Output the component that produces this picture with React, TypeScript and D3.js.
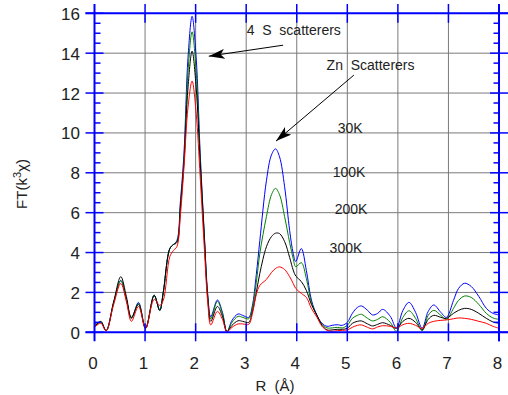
import * as d3 from 'd3';
import React, { useRef, useEffect } from 'react';

// R values (Å) shared by all four temperature curves
const rValues = [0, 0.07, 0.13, 0.23, 0.38, 0.52, 0.63, 0.73, 0.87, 1.01, 1.18, 1.29, 1.36, 1.49, 1.56, 1.63, 1.70, 1.77, 1.85, 1.93, 2.01, 2.09, 2.17, 2.24, 2.30, 2.43, 2.53, 2.62, 2.72, 2.84, 2.93, 3.05, 3.12, 3.2, 3.27, 3.4, 3.5, 3.58, 3.66, 3.76, 3.86, 3.93, 3.98, 4.09, 4.19, 4.29, 4.4, 4.5, 4.6, 4.7, 4.8, 4.9, 5.0, 5.1, 5.2, 5.28, 5.4, 5.5, 5.6, 5.7, 5.85, 5.97, 6.1, 6.22, 6.35, 6.48, 6.6, 6.71, 6.85, 6.96, 7.1, 7.2, 7.32, 7.45, 7.6, 7.75, 7.88, 8.0];

const ft30K = [0.4, 0.5, 0.5, 0.08, 1.5, 2.6, 1.65, 0.7, 1.5, 0.2, 1.85, 1.1, 2.0, 4.2, 4.4, 4.6, 6.6, 9.0, 13.8, 15.85, 13.8, 9.0, 5.0, 1.9, 0.78, 1.62, 1.0, 0.03, 0.6, 0.92, 0.85, 0.75, 1.3, 2.9, 4.6, 7.6, 8.9, 9.2, 8.8, 7.3, 5.1, 3.96, 3.55, 4.2, 3.1, 1.62, 0.85, 0.45, 0.3, 0.35, 0.38, 0.35, 0.5, 0.95, 1.25, 1.32, 1.1, 0.87, 0.95, 1.15, 0.8, 0.22, 1.1, 1.5, 1.0, 0.2, 1.05, 1.37, 1.0, 0.75, 1.6, 2.2, 2.46, 2.3, 1.8, 1.2, 0.95, 0.87];
const ft100K = [0.35, 0.45, 0.5, 0.08, 1.5, 2.6, 1.65, 0.7, 1.45, 0.2, 1.87, 1.1, 2.0, 4.2, 4.4, 4.55, 6.4, 8.7, 13.1, 15.07, 13.1, 8.7, 4.9, 1.8, 0.68, 1.55, 0.95, 0.03, 0.5, 0.8, 0.75, 0.68, 1.2, 2.5, 3.96, 5.8, 6.9, 7.22, 6.9, 5.8, 4.5, 3.7, 3.29, 3.49, 2.7, 1.5, 0.85, 0.4, 0.22, 0.22, 0.25, 0.22, 0.35, 0.7, 0.85, 0.9, 0.7, 0.57, 0.65, 0.78, 0.5, 0.05, 0.75, 1.08, 0.7, 0.08, 0.85, 1.1, 0.85, 0.65, 1.2, 1.6, 1.82, 1.75, 1.4, 0.95, 0.72, 0.65];
const ft200K = [0.3, 0.45, 0.55, 0.08, 1.55, 2.79, 1.8, 0.75, 1.4, 0.2, 1.85, 1.1, 2.0, 4.2, 4.4, 4.5, 6.3, 8.5, 12.3, 14.1, 12.3, 8.5, 4.8, 1.7, 0.55, 1.3, 0.8, 0.03, 0.35, 0.58, 0.55, 0.5, 1.0, 2.0, 2.96, 4.29, 4.8, 4.97, 4.95, 4.55, 3.75, 3.12, 2.82, 2.55, 2.1, 1.4, 0.85, 0.35, 0.12, 0.12, 0.15, 0.15, 0.2, 0.45, 0.55, 0.57, 0.42, 0.32, 0.4, 0.48, 0.35, 0.2, 0.55, 0.7, 0.5, 0.13, 0.65, 0.85, 0.75, 0.7, 0.95, 1.1, 1.2, 1.15, 0.95, 0.7, 0.52, 0.45];
const ft300K = [0.25, 0.4, 0.45, 0.08, 1.4, 2.45, 1.55, 0.55, 1.3, 0.2, 1.65, 1.35, 1.6, 3.8, 4.1, 4.3, 5.9, 8.3, 11.3, 12.6, 11.0, 7.8, 4.3, 1.5, 0.37, 1.05, 0.65, 0.03, 0.25, 0.42, 0.42, 0.4, 0.9, 1.9, 2.35, 2.65, 3.0, 3.2, 3.28, 3.15, 2.79, 2.45, 2.2, 1.95, 1.75, 1.2, 0.75, 0.3, 0.1, 0.05, 0.08, 0.1, 0.12, 0.25, 0.35, 0.37, 0.25, 0.17, 0.27, 0.33, 0.3, 0.22, 0.38, 0.45, 0.35, 0.2, 0.45, 0.55, 0.6, 0.62, 0.68, 0.72, 0.7, 0.65, 0.55, 0.45, 0.3, 0.2];

const seriesColors = ['#0000ff', '#008000', '#000000', '#ff0000'];

const xTicks = [0, 1, 2, 3, 4, 5, 6, 7, 8];
const yTicks = [0, 2, 4, 6, 8, 10, 12, 14, 16];

// text labels placed in data units [R, FT]
const tempLabels = ['30K', '100K', '200K', '300K'];
const tempLabelR = [4.81, 4.71, 4.75, 4.65];
const tempLabelY = [9.99, 7.79, 5.93, 3.97];

const noteTexts = ['4\u00a0\u00a0S\u00a0\u00a0scatterers', 'Zn\u00a0\u00a0Scatterers'];
const notePos = [[3.01, 14.9], [4.59, 13.15]];
const arrowFrom = [[3.73, 14.4], [5.13, 12.9]];
const arrowTo = [[2.26, 13.85], [3.59, 9.59]];

const W = 508;
const H = 395;
const FONT = '"Liberation Sans", Arial, Helvetica, sans-serif';

function App() {
  const ref = useRef(null);

  useEffect(() => {
    const svg = d3.select(ref.current);
    svg.selectAll('*').remove();

    const x = d3.scaleLinear().domain([0, 8]).range([94.5, 499]);
    const y = d3.scaleLinear().domain([0, 16]).range([332.3, 13.3]);
    const x0 = x(0), x1 = x(8), y0 = y(0), y1 = y(16);

    svg.append('rect').attr('width', W).attr('height', H).attr('fill', '#fff');

    svg.append('defs').append('marker')
      .attr('id', 'arrowhead')
      .attr('viewBox', '0 0 16 10')
      .attr('refX', 16).attr('refY', 5)
      .attr('markerWidth', 16).attr('markerHeight', 10)
      .attr('markerUnits', 'userSpaceOnUse')
      .attr('orient', 'auto')
      .append('path').attr('d', 'M0,0 L16,5 L0,10 L4,5 Z').attr('fill', '#000');

    // grid
    const grid = svg.append('g').attr('stroke', '#7a7a7a').attr('stroke-width', 1);
    xTicks.slice(1, -1).forEach((t) => {
      grid.append('line').attr('x1', x(t)).attr('x2', x(t)).attr('y1', y1).attr('y2', y0);
    });
    yTicks.slice(1, -1).forEach((t) => {
      grid.append('line').attr('x1', x0).attr('x2', x1).attr('y1', y(t)).attr('y2', y(t));
    });

    // curves
    const line = d3.line()
      .x((d) => x(d[0]))
      .y((d) => y(d[1]))
      .curve(d3.curveCatmullRom.alpha(0.5));

    [ft30K, ft100K, ft200K, ft300K].forEach((vals, i) => {
      const pts = rValues.map((r, j) => [r, vals[j]]);
      svg.append('path')
        .attr('d', line(pts))
        .attr('fill', 'none')
        .attr('stroke', seriesColors[i])
        .attr('stroke-width', 1);
    });

    // blue frame and ticks
    const ax = svg.append('g').attr('stroke', '#0000ff').attr('fill', 'none');
    ax.append('line').attr('x1', x0).attr('x2', x0).attr('y1', 4).attr('y2', y0 + 9).attr('stroke-width', 2);
    ax.append('line').attr('x1', x1).attr('x2', x1).attr('y1', 4).attr('y2', y0 + 9).attr('stroke-width', 2);
    ax.append('line').attr('x1', x0 - 9).attr('x2', W).attr('y1', y1).attr('y2', y1).attr('stroke-width', 2);
    ax.append('line').attr('x1', x0 - 9).attr('x2', W).attr('y1', y0).attr('y2', y0).attr('stroke-width', 2);

    xTicks.slice(1).forEach((t) => {
      ax.append('line').attr('x1', x(t)).attr('x2', x(t)).attr('y1', 4).attr('y2', y1 + 9.5).attr('stroke-width', 1.5);
      ax.append('line').attr('x1', x(t)).attr('x2', x(t)).attr('y1', y0 - 9).attr('y2', y0 + 9).attr('stroke-width', 1.5);
    });
    yTicks.forEach((t) => {
      ax.append('line').attr('x1', x0 - 9).attr('x2', x0 + 9).attr('y1', y(t)).attr('y2', y(t)).attr('stroke-width', 1.5);
      ax.append('line').attr('x1', x1 - 9).attr('x2', W).attr('y1', y(t)).attr('y2', y(t)).attr('stroke-width', 1.5);
    });
    // minor ticks every 0.5
    d3.range(0.5, 16, 0.5).filter((t) => t % 2 !== 0).forEach((t) => {
      ax.append('line').attr('x1', x0).attr('x2', x0 + 6).attr('y1', y(t)).attr('y2', y(t)).attr('stroke-width', 1.5);
      ax.append('line').attr('x1', x1 - 5.5).attr('x2', x1).attr('y1', y(t)).attr('y2', y(t)).attr('stroke-width', 1.5);
    });

    // tick labels
    const txt = svg.append('g').attr('font-family', FONT).attr('fill', '#222');
    yTicks.forEach((t) => {
      txt.append('text').attr('x', 80).attr('y', y(t) + 6.5)
        .attr('text-anchor', 'end').attr('font-size', 17).text(t);
    });
    xTicks.forEach((t) => {
      txt.append('text').attr('x', x(t) - 1.5).attr('y', 369)
        .attr('text-anchor', 'middle').attr('font-size', 17).text(t);
    });

    // axis titles
    const yt = txt.append('text')
      .attr('transform', 'translate(26.5,184) rotate(-90)')
      .attr('text-anchor', 'middle').attr('font-size', 15);
    yt.append('tspan').text('FT(k');
    yt.append('tspan').attr('dy', -6).attr('font-size', 11).text('3');
    yt.append('tspan').attr('dy', 6).text('\u03c7)');

    txt.append('text').attr('x', 275).attr('y', 391)
      .attr('text-anchor', 'middle').attr('font-size', 15).text('R\u00a0\u00a0(\u00c5)');

    // annotations
    tempLabels.forEach((l, i) => {
      txt.append('text').attr('x', x(tempLabelR[i])).attr('y', y(tempLabelY[i]))
        .attr('font-size', 14).text(l);
    });
    noteTexts.forEach((l, i) => {
      txt.append('text').attr('x', x(notePos[i][0])).attr('y', y(notePos[i][1]))
        .attr('font-size', 14).text(l);
    });
    arrowFrom.forEach((f, i) => {
      svg.append('line')
        .attr('x1', x(f[0])).attr('y1', y(f[1]))
        .attr('x2', x(arrowTo[i][0])).attr('y2', y(arrowTo[i][1]))
        .attr('stroke', '#000').attr('stroke-width', 1)
        .attr('marker-end', 'url(#arrowhead)');
    });
  }, []);

  return (
    <svg ref={ref} width={W} height={H}
      style={{ position: 'absolute', left: 0, top: 0, display: 'block' }} />
  );
}

export default App;
